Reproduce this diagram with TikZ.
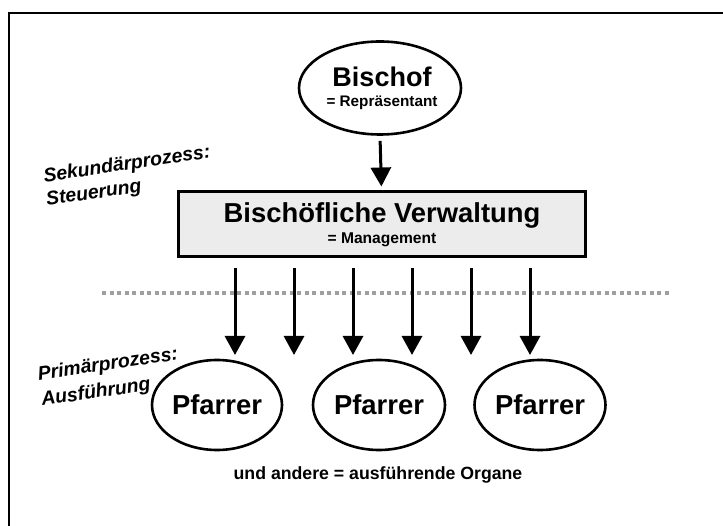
\documentclass[tikz,border=0pt]{standalone}
\usepackage{fontspec}
\setmainfont{Liberation Sans}
\usetikzlibrary{shapes.geometric,arrows.meta}

\tikzset{
  fs/.style={font=\fontsize{#1}{#1}\selectfont\bfseries},
  oval/.style={draw, line width=2.6pt, ellipse, inner sep=0pt},
  mgmt/.style={draw, line width=3pt, fill=gray!15, rectangle, inner sep=0pt},
  down/.style={line width=3pt, -{Triangle[length=19pt,width=20pt]}},
  divider/.style={draw=gray!75, line width=4pt, dash pattern=on 4pt off 3.5pt},
  side/.style={font=\fontsize{19.4}{19.4}\selectfont\bfseries\itshape, rotate=8.3, inner sep=0pt},
}

\begin{document}
\begin{tikzpicture}[x=1pt, y=-1pt]
  \useasboundingbox (0,0) rectangle (723,526);

  % outer frame (runs off the right and bottom edges)
  \coordinate (frameR) at (723,13);
  \coordinate (frameC) at (9,13);
  \coordinate (frameB) at (9,526);
  \draw[line width=2.6pt] (frameR) -- (frameC) -- (frameB);

  % Bischof
  \node[oval, minimum width=162pt, minimum height=93pt] (bischof) at (380,88) {};
  \node[fs=27, inner sep=0pt] (bischofT) at (382,77) {Bischof};
  \node[fs=15.3, inner sep=0pt] (bischofS) at (382,103) {= Repräsentant};

  % management box
  \node[mgmt, minimum width=407pt, minimum height=65pt] (verw) at (381.5,224.5) {};
  \node[fs=27.4, inner sep=0pt] (verwT) at (382,215) {Bischöfliche Verwaltung};
  \node[fs=15.6, inner sep=0pt] (verwS) at (382,240) {= Management};

  \draw[down, shorten <=5pt, shorten >=4pt] (bischof.south) -- (verw.north);

  % separation between the two processes
  \coordinate (divL) at (102,293);
  \coordinate (divR) at (671,293);
  \draw[divider] (divL) -- (divR);

  % arrows towards the parishes
  \foreach \i/\x in {1/235, 2/294, 3/353, 4/412, 5/471, 6/530} {
    \coordinate (s\i) at (\x,268);
    \coordinate (t\i) at (\x,355);
    \draw[down] (s\i) -- (t\i);
  }

  % parishes
  \node[oval, minimum width=130pt, minimum height=90pt, fs=27.4] (pf1) at (217,405) {Pfarrer};
  \node[oval, minimum width=132pt, minimum height=90pt, fs=27.4] (pf2) at (379,405) {Pfarrer};
  \node[oval, minimum width=131pt, minimum height=90pt, fs=27.4] (pf3) at (540,405) {Pfarrer};

  \node[fs=17.7, inner sep=0pt] (organe) at (378,475) {und andere = ausführende Organe};

  % process labels
  \node[side] (sek) at (127,165) {Sekundärprozess:};
  \node[side] (steu) at (94,194) {Steuerung};
  \node[side] (prim) at (108,365) {Primärprozess:};
  \node[side] (ausf) at (96,393) {Ausführung};
\end{tikzpicture}
\end{document}
